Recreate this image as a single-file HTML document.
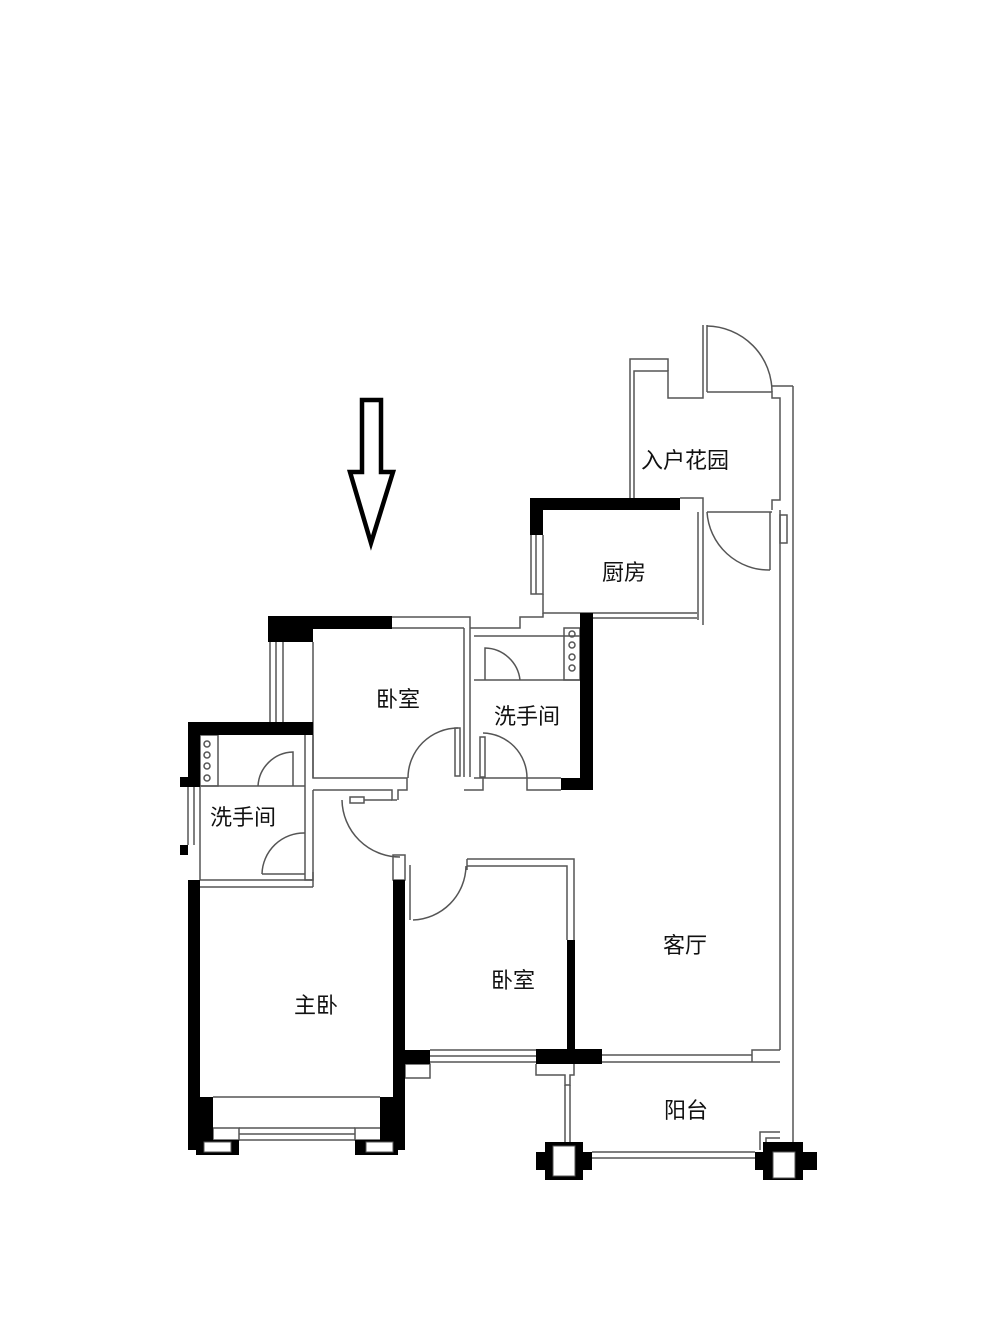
<!DOCTYPE html>
<html><head><meta charset="utf-8"><style>
html,body{margin:0;padding:0;background:#fff;}
svg{display:block}
text{font-family:"Liberation Sans","Noto Sans CJK SC",sans-serif;font-size:22px;fill:#111}
</style></head><body>
<svg width="1000" height="1331" viewBox="0 0 1000 1331" xmlns="http://www.w3.org/2000/svg">
<rect width="1000" height="1331" fill="#fff"/>
<!-- arrow -->
<path d="M362 400 H381 V472 H393 L371 543 L350 472 H362 Z" fill="none" stroke="#000" stroke-width="4.5" stroke-linejoin="miter"/>

<g fill="none" stroke="#555" stroke-width="1.5">
<!-- entry garden -->
<path d="M630 498 V359 H668 V371"/>
<path d="M634 498 V371 H668 V398 H703 V325"/>
<path d="M707 325 V392"/>
<path d="M707 326 A66 66 0 0 1 772 392"/>
<path d="M707 392 H772 V398 H780 V500 H772 V510"/>
<path d="M793 386 H772"/>
<line x1="793" y1="386" x2="793" y2="1152"/>
<line x1="780" y1="510" x2="780" y2="1050"/>
<line x1="707" y1="512" x2="772" y2="512"/>
<path d="M707 512 A62 62 0 0 0 770 570"/>
<line x1="770" y1="512" x2="770" y2="570"/>
<rect x="780" y="515" width="7" height="28"/>
<!-- kitchen -->
<path d="M680 498 H703 V625"/>
<line x1="698" y1="512" x2="698" y2="620"/>
<path d="M531 535 V594 H543 V535"/>
<line x1="536" y1="535" x2="536" y2="594"/>
<path d="M543 594 V613 H697"/>
<path d="M593 618 H697"/>
<path d="M543 613 V617 H520 V628 H470"/>
<!-- upper bedroom -->
<path d="M392 617 H470 V777"/>
<line x1="392" y1="628" x2="464" y2="628"/>
<line x1="464" y1="628" x2="464" y2="777"/>
<path d="M313 642 V778 H407 V790 H398 V800"/>
<line x1="270" y1="642" x2="270" y2="722"/>
<line x1="276" y1="642" x2="276" y2="722"/>
<line x1="283" y1="642" x2="283" y2="722"/>
<path d="M408 778 A50 50 0 0 1 458 728"/>
<rect x="455" y="728" width="5" height="48"/>
<path d="M464 790 H483 V777"/>
<!-- upper bath -->
<line x1="474" y1="680" x2="580" y2="680"/>
<line x1="474" y1="636" x2="580" y2="636"/>
<rect x="564" y="628" width="16" height="52"/>
<circle cx="572" cy="634" r="3"/><circle cx="572" cy="645" r="3"/><circle cx="572" cy="657" r="3"/><circle cx="572" cy="668" r="3"/>
<path d="M485 680 V648 A36 36 0 0 1 520 680"/>
<path d="M483 733 A45 45 0 0 1 527 778"/>
<rect x="480" y="737" width="5" height="40"/>
<path d="M527 778 V790 H561"/>
<line x1="474" y1="778" x2="561" y2="778"/>
<!-- left bath -->
<path d="M305 735 V880 H313 V790"/>
<path d="M313 735 V778"/>
<line x1="200" y1="786" x2="305" y2="786"/>
<rect x="200" y="735" width="18" height="51"/>
<circle cx="207" cy="744" r="3"/><circle cx="207" cy="755" r="3"/><circle cx="207" cy="766" r="3"/><circle cx="207" cy="778" r="3"/>
<path d="M258 786 A36 36 0 0 1 293 752 V786"/>
<path d="M262 874 A42 42 0 0 1 305 833"/>
<line x1="262" y1="874" x2="305" y2="874"/>
<line x1="200" y1="880" x2="313" y2="880"/>
<line x1="200" y1="887" x2="313" y2="887"/>
<path d="M313 887 V872"/>
<line x1="188" y1="787" x2="188" y2="845"/>
<line x1="194" y1="787" x2="194" y2="845"/>
<line x1="200" y1="787" x2="200" y2="880"/>
<!-- hall door -->
<path d="M313 790 H392 V800 H397"/>
<path d="M342 800 A58 58 0 0 0 400 857"/>
<rect x="350" y="797" width="14" height="6"/>
<line x1="364" y1="800" x2="392" y2="800"/>
<!-- bedroom 2 -->
<rect x="393" y="855" width="12" height="25"/>
<line x1="410" y1="865" x2="410" y2="920"/>
<path d="M467 859 H574 V940"/>
<path d="M467 866 H567 V940"/>
<path d="M467 859 V870"/>
<path d="M413 920 A55 55 0 0 0 466 866"/>
<!-- bedroom2 bottom window -->
<line x1="430" y1="1050" x2="536" y2="1050"/>
<line x1="430" y1="1056" x2="536" y2="1056"/>
<line x1="430" y1="1062" x2="536" y2="1062"/>
<rect x="405" y="1064" width="25" height="14"/>
<!-- living bottom -->
<line x1="602" y1="1055" x2="752" y2="1055"/>
<line x1="602" y1="1062" x2="780" y2="1062"/>
<path d="M752 1062 V1050 H780"/>
<!-- balcony -->
<path d="M536 1064 V1075 H565 V1085 H570 V1075 H574 V1064"/>
<line x1="565" y1="1085" x2="565" y2="1142"/>
<line x1="570" y1="1085" x2="570" y2="1142"/>
<line x1="592" y1="1152" x2="755" y2="1152"/>
<line x1="592" y1="1158" x2="755" y2="1158"/>
<path d="M760 1150 V1132 H780"/>
<path d="M766 1150 V1138 H780"/>
<!-- master bedroom -->
<line x1="213" y1="1097" x2="380" y2="1097"/>
<line x1="239" y1="1128" x2="355" y2="1128"/>
<line x1="239" y1="1134" x2="355" y2="1134"/>
<line x1="239" y1="1140" x2="355" y2="1140"/>
<rect x="213" y="1128" width="26" height="12"/>
<rect x="355" y="1128" width="26" height="12"/>
</g>

<g fill="#000">
<rect x="530" y="498" width="150" height="12"/>
<rect x="530" y="498" width="13" height="37"/>
<rect x="580" y="613" width="13" height="177"/>
<rect x="561" y="778" width="32" height="12"/>
<rect x="268" y="616" width="124" height="13"/>
<rect x="268" y="616" width="45" height="26"/>
<rect x="188" y="722" width="125" height="13"/>
<rect x="188" y="722" width="12" height="65"/>
<rect x="180" y="777" width="20" height="10"/>
<rect x="180" y="845" width="8" height="10"/>
<rect x="188" y="880" width="12" height="270"/>
<rect x="393" y="880" width="12" height="270"/>
<rect x="188" y="1097" width="25" height="50"/>
<rect x="380" y="1097" width="25" height="50"/>
<rect x="196" y="1140" width="43" height="15"/>
<rect x="355" y="1140" width="43" height="15"/>
<rect x="405" y="1050" width="25" height="14"/>
<rect x="567" y="940" width="8" height="110"/>
<rect x="536" y="1049" width="66" height="15"/>
<rect x="536" y="1152" width="56" height="18"/>
<rect x="545" y="1142" width="38" height="38"/>
<rect x="755" y="1152" width="62" height="18"/>
<rect x="763" y="1142" width="40" height="38"/>
</g>
<g fill="#fff" stroke="#555" stroke-width="1">
<rect x="553" y="1146" width="22" height="30"/>
<rect x="773" y="1152" width="22" height="26"/>
<rect x="204" y="1142" width="27" height="10"/>
<rect x="366" y="1142" width="27" height="10"/>
</g>

<text x="641" y="468">入户花园</text>
<text x="602" y="580">厨房</text>
<text x="376" y="707">卧室</text>
<text x="494" y="724">洗手间</text>
<text x="210" y="825">洗手间</text>
<text x="663" y="953">客厅</text>
<text x="491" y="988">卧室</text>
<text x="294" y="1013">主卧</text>
<text x="664" y="1118">阳台</text>
</svg>
</body></html>
